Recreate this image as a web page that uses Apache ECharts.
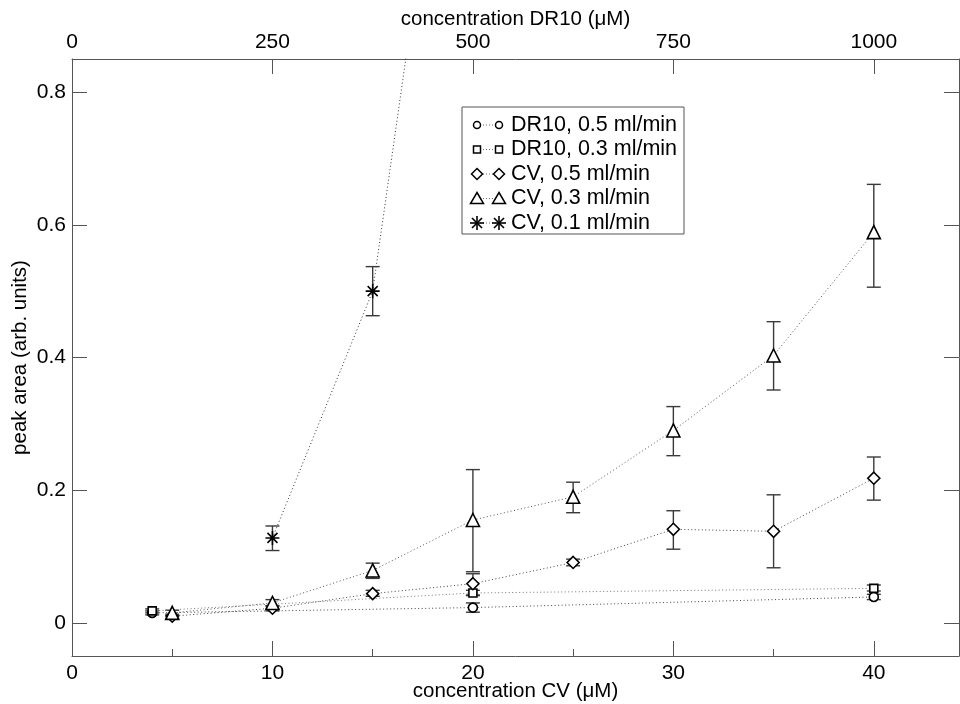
<!DOCTYPE html>
<html>
<head>
<meta charset="utf-8">
<title>peak area vs concentration</title>
<script src="https://cdn.jsdelivr.net/npm/echarts@6/dist/echarts.min.js"></script>
<style>
    html, body { margin: 0; padding: 0; background: #fff; }
    #chart { width: 960px; height: 704px; }
</style>
</head>
<body>
<div id="chart"></div>
<script>
// CV concentration (bottom axis, uM)
var cvX = [5, 10, 15, 20, 25, 30, 35, 40];
var cvStarX = [10, 15, 20];
// DR10 concentration (top axis, uM)
var drX = [100, 500, 1000];

// CV, 0.5 ml/min (diamonds)
var cv05 = [0.010, 0.022, 0.044, 0.059, 0.091, 0.141, 0.138, 0.218];
var cv05Lo = [0.007, 0.018, 0.040, 0.042, 0.086, 0.111, 0.083, 0.185];
var cv05Hi = [0.013, 0.026, 0.049, 0.074, 0.096, 0.169, 0.193, 0.250];

// CV, 0.3 ml/min (triangles)
var cv03 = [0.015, 0.030, 0.079, 0.155, 0.190, 0.290, 0.403, 0.589];
var cv03Lo = [0.011, 0.025, 0.067, 0.077, 0.166, 0.252, 0.351, 0.506];
var cv03Hi = [0.019, 0.035, 0.090, 0.231, 0.212, 0.326, 0.454, 0.661];

// CV, 0.1 ml/min (stars), last point is off the top of the plot
var cv01 = [0.128, 0.500, 1.56];
var cv01Lo = [0.109, 0.463, 1.56];
var cv01Hi = [0.146, 0.537, 1.56];

// DR10, 0.5 ml/min (circles)
var dr05 = [0.015, 0.023, 0.039];
var dr05Lo = [0.012, 0.016, 0.035];
var dr05Hi = [0.018, 0.030, 0.043];

// DR10, 0.3 ml/min (squares)
var dr03 = [0.018, 0.045, 0.052];
var dr03Lo = [0.015, 0.041, 0.048];
var dr03Hi = [0.021, 0.049, 0.057];

// tick labels
var cvTicks = [0, 10, 20, 30, 40];
var cvMinorTicks = [5, 15, 25, 35];
var drTicks = [0, 250, 500, 750, 1000];
var yTicks = [0, 0.2, 0.4, 0.6, 0.8];

var legendNames = ['DR10, 0.5 ml/min', 'DR10, 0.3 ml/min', 'CV, 0.5 ml/min', 'CV, 0.3 ml/min', 'CV, 0.1 ml/min'];

(function (window, echarts) {
    var FONT = '"Liberation Sans", Arial, Helvetica, sans-serif';
    var INK = '#000';
    var AXIS = '#555';
    var STAR = 'path://M7,0L7,14M0,7L14,7M2,2L12,12M2,12L12,2';

    function zip(xs, ys, los, his) {
        return xs.map(function (x, i) {
            return [x, ys[i], los[i], his[i]];
        });
    }

    // 折线+符号
    function lineSeries(name, xs, ys, symbol, size, xIndex, dotColor) {
        return {
            name: name,
            type: 'line',
            xAxisIndex: xIndex,
            yAxisIndex: 0,
            data: xs.map(function (x, i) { return [x, ys[i]]; }),
            symbol: symbol,
            symbolSize: size,
            showAllSymbol: true,
            clip: true,
            z: 5,
            lineStyle: { color: dotColor, width: 1, type: [1, 2.5] },
            itemStyle: { color: '#fff', borderColor: INK, borderWidth: 1.6 },
            emphasis: { disabled: true },
            animation: false
        };
    }

    // 误差线
    function errorSeries(xs, ys, los, his, xIndex) {
        return {
            type: 'custom',
            xAxisIndex: xIndex,
            yAxisIndex: 0,
            clip: true,
            z: 3,
            data: zip(xs, ys, los, his),
            renderItem: function (params, api) {
                var x = api.value(0);
                var lo = api.coord([x, api.value(2)]);
                var hi = api.coord([x, api.value(3)]);
                var w = 7;
                var style = { stroke: '#3a3a3a', lineWidth: 1.4 };
                return {
                    type: 'group',
                    children: [
                        { type: 'line', shape: { x1: lo[0], y1: lo[1], x2: hi[0], y2: hi[1] }, style: style },
                        { type: 'line', shape: { x1: lo[0] - w, y1: lo[1], x2: lo[0] + w, y2: lo[1] }, style: style },
                        { type: 'line', shape: { x1: hi[0] - w, y1: hi[1], x2: hi[0] + w, y2: hi[1] }, style: style }
                    ]
                };
            },
            animation: false
        };
    }

    // 图例符号
    function legendSymbol(kind, cx, cy) {
        var st = { fill: '#fff', stroke: INK, lineWidth: 1.5 };
        if (kind === 'circle') {
            return { type: 'circle', shape: { cx: cx, cy: cy, r: 3.5 }, style: st };
        }
        if (kind === 'rect') {
            return { type: 'rect', shape: { x: cx - 3.5, y: cy - 3.5, width: 7, height: 7 }, style: st };
        }
        if (kind === 'diamond') {
            return { type: 'polygon', shape: { points: [[cx, cy - 5.5], [cx + 5.5, cy], [cx, cy + 5.5], [cx - 5.5, cy]] }, style: st };
        }
        if (kind === 'triangle') {
            return { type: 'polygon', shape: { points: [[cx, cy - 6], [cx + 6.5, cy + 5], [cx - 6.5, cy + 5]] }, style: st };
        }
        var s = { stroke: INK, lineWidth: 1.6 };
        var r = 7, d = 5;
        return {
            type: 'group',
            children: [
                { type: 'line', shape: { x1: cx, y1: cy - r, x2: cx, y2: cy + r }, style: s },
                { type: 'line', shape: { x1: cx - r, y1: cy, x2: cx + r, y2: cy }, style: s },
                { type: 'line', shape: { x1: cx - d, y1: cy - d, x2: cx + d, y2: cy + d }, style: s },
                { type: 'line', shape: { x1: cx - d, y1: cy + d, x2: cx + d, y2: cy - d }, style: s }
            ]
        };
    }

    function buildLegend() {
        var kinds = ['circle', 'rect', 'diamond', 'triangle', 'star'];
        var left = 462, top = 107, rowH = 24.5;
        var children = [{
            type: 'rect',
            shape: { x: left, y: top, width: 222, height: 127 },
            style: { fill: '#fff', stroke: AXIS, lineWidth: 1 }
        }];
        kinds.forEach(function (k, i) {
            var cy = top + 18 + i * rowH;
            children.push({
                type: 'line',
                shape: { x1: 477, y1: cy, x2: 499, y2: cy },
                style: { stroke: '#666', lineWidth: 1, lineDash: [1, 2] }
            });
            children.push(legendSymbol(k, 477, cy));
            children.push(legendSymbol(k, 499, cy));
            children.push({
                type: 'text',
                style: {
                    x: 511, y: cy, text: legendNames[i],
                    font: '21.5px ' + FONT, fill: INK,
                    verticalAlign: 'middle', align: 'left'
                }
            });
        });
        return { type: 'group', z: 100, children: children };
    }

    function baseAxis() {
        return {
            axisLine: { show: true, onZero: false, lineStyle: { color: AXIS, width: 1 } },
            splitLine: { show: false },
            axisLabel: {
                color: INK, fontSize: 21, fontFamily: FONT,
                formatter: function (v) { return String(v); }
            },
            nameMoveOverlap: false,
            nameTextStyle: { color: INK, fontSize: 20.5, fontFamily: FONT },
            axisTick: { show: true, inside: true, length: 15, lineStyle: { color: AXIS } }
        };
    }

    function extend(a, b) {
        Object.keys(b).forEach(function (k) { a[k] = b[k]; });
        return a;
    }

    var chart = echarts.init(document.getElementById('chart'), null, { renderer: 'canvas' });

    var xBottom = extend(baseAxis(), {
        type: 'value', position: 'bottom', min: 0, max: 44.25,
        name: 'concentration CV (\u03bcM)', nameLocation: 'middle', nameGap: 25
    });
    xBottom.axisLabel.customValues = cvTicks;
    xBottom.axisLabel.margin = 7;
    xBottom.axisTick.customValues = cvTicks;

    var xTop = extend(baseAxis(), {
        type: 'value', position: 'top', min: 0, max: 1106.25,
        name: 'concentration DR10 (\u03bcM)', nameLocation: 'middle', nameGap: 29
    });
    xTop.axisLabel.customValues = drTicks;
    xTop.axisLabel.margin = 6;
    xTop.axisTick.customValues = drTicks;

    var xMinor = extend(baseAxis(), {
        type: 'value', position: 'bottom', min: 0, max: 44.25
    });
    xMinor.axisLine.show = false;
    xMinor.axisLabel.show = false;
    xMinor.axisTick.customValues = cvMinorTicks;
    xMinor.axisTick.length = 7;

    var yLeft = extend(baseAxis(), {
        type: 'value', position: 'left', min: -0.05, max: 0.85,
        name: 'peak area (arb. units)', nameLocation: 'middle', nameGap: 41
    });
    yLeft.axisLabel.customValues = yTicks;
    yLeft.axisLabel.margin = 6;
    yLeft.axisTick.customValues = yTicks;

    var yRight = extend(baseAxis(), {
        type: 'value', position: 'right', min: -0.05, max: 0.85
    });
    yRight.axisLabel.show = false;
    yRight.axisTick.customValues = yTicks;

    chart.setOption({
        animation: false,
        backgroundColor: '#fff',
        grid: { left: 72, right: 1, top: 59, bottom: 48, containLabel: false, outerBoundsMode: 'none' },
        xAxis: [xBottom, xTop, xMinor],
        yAxis: [yLeft, yRight],
        graphic: [buildLegend()],
        series: [
            errorSeries(drX, dr05, dr05Lo, dr05Hi, 1),
            errorSeries(drX, dr03, dr03Lo, dr03Hi, 1),
            errorSeries(cvX, cv05, cv05Lo, cv05Hi, 0),
            errorSeries(cvX, cv03, cv03Lo, cv03Hi, 0),
            errorSeries(cvStarX, cv01, cv01Lo, cv01Hi, 0),
            lineSeries(legendNames[0], drX, dr05, 'circle', 9, 1, '#444'),
            lineSeries(legendNames[1], drX, dr03, 'rect', 8, 1, '#777'),
            lineSeries(legendNames[2], cvX, cv05, 'diamond', 12, 0, '#444'),
            lineSeries(legendNames[3], cvX, cv03, 'triangle', 13, 0, '#555'),
            lineSeries(legendNames[4], cvStarX, cv01, STAR, 14, 0, '#333')
        ]
    });
})(window, echarts);
</script>
</body>
</html>
